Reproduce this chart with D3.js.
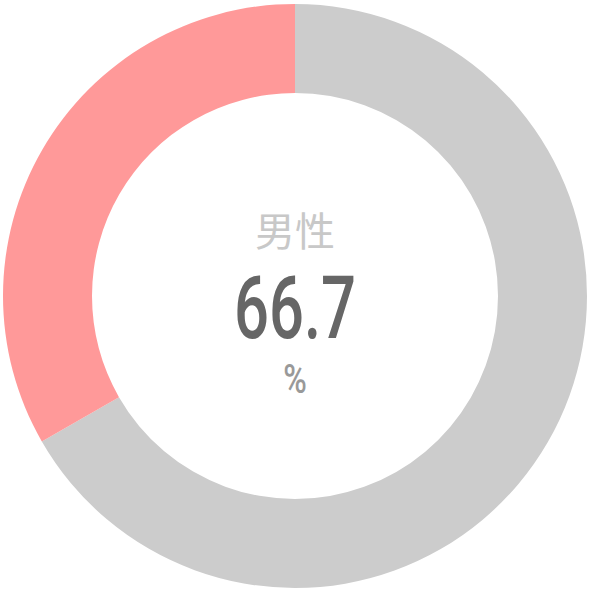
<!DOCTYPE html>
<html lang="ja">
<head>
  <meta charset="UTF-8" />
  <title>男性 比率</title>
  <script src="https://d3js.org/d3.v7.min.js"></script>
  <style>
    body {
      margin: 0;
      padding: 0;
      background: #fff;
    }
    .label-top {
      font-family: "Noto Sans CJK JP", sans-serif;
      fill: #c8c8c8;
      text-anchor: middle;
    }
    .label-value {
      font-family: Roboto, "DejaVu Sans", sans-serif;
      font-weight: 500;
      fill: #666;
      text-anchor: middle;
    }
    .label-unit {
      font-family: Roboto, "DejaVu Sans", sans-serif;
      font-weight: 500;
      fill: #999;
      text-anchor: middle;
    }
  </style>
</head>
<body>
  <svg width="590" height="590"></svg>
  <script>
    const categories = ["男性", "女性"];
    const values = [66.7, 33.3];
    const colors = ["#cccccc", "#ff9999"];
    const title = "男性";
    const unit = "%";

    const svg = d3.select("svg");
    const cx = 295, cy = 296;
    const outerR = 292, innerR = 203;

    const g = svg.append("g").attr("transform", `translate(${cx},${cy})`);

    const pie = d3.pie().sort(null).value(d => d);
    const arc = d3.arc().innerRadius(innerR).outerRadius(outerR);

    g.selectAll("path")
      .data(pie(values))
      .enter()
      .append("path")
      .attr("d", arc)
      .attr("fill", (d, i) => colors[i]);

    g.append("text")
      .attr("class", "label-top")
      .attr("y", -50)
      .attr("font-size", 40)
      .text(title);

    // condensed look: squeeze the number horizontally
    g.append("text")
      .attr("class", "label-value")
      .attr("transform", "translate(0,42) scale(0.7,1)")
      .attr("font-size", 88)
      .text(d3.format(".1f")(values[0]));

    g.append("text")
      .attr("class", "label-unit")
      .attr("transform", "translate(0,97) scale(0.8,1)")
      .attr("font-size", 40)
      .text(unit);
  </script>
</body>
</html>
